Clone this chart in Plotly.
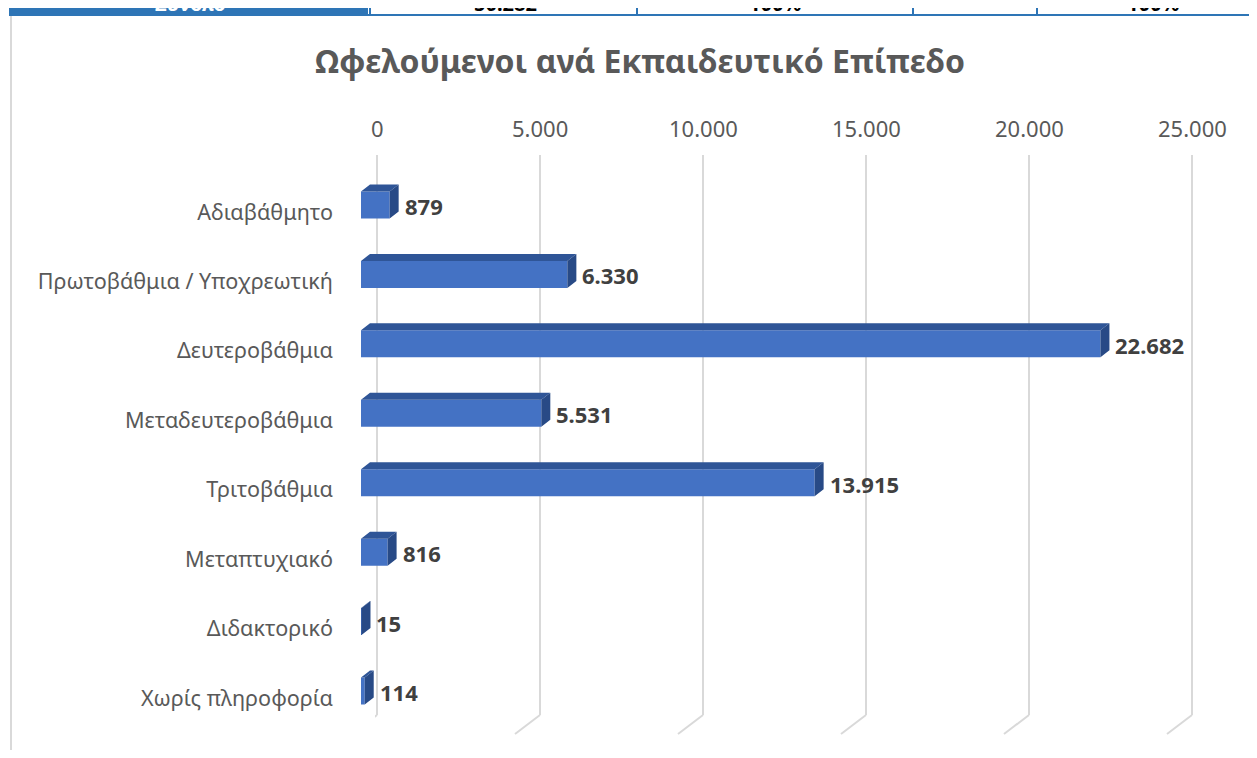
import plotly.graph_objects as go

# the page body keeps an 8px margin around the figure
FW, FH = 1241, 742
SX, OX = 1.0, 8.0      # page_x = SX * fig_x + OX
OY = 8.0               # page_y = fig_y + OY

categories = ["Αδιαβάθμητο", "Πρωτοβάθμια / Υποχρεωτική", "Δευτεροβάθμια",
              "Μεταδευτεροβάθμια", "Τριτοβάθμια", "Μεταπτυχιακό",
              "Διδακτορικό", "Χωρίς πληροφορία"]
values = [879, 6330, 22682, 5531, 13915, 816, 15, 114]
tick_vals = [0, 5000, 10000, 15000, 20000, 25000]
tick_text = ["0", "5.000", "10.000", "15.000", "20.000", "25.000"]
title_text = "Ωφελούμενοι ανά Εκπαιδευτικό Επίπεδο"
table_texts = ["Σύνολο", "50.282", "100%", "100%"]


def px_x(p):
    """target page pixel x -> paper fraction"""
    return ((p - OX) / SX) / FW


def px_y(p):
    """target page pixel y (from top) -> paper fraction"""
    return 1 - (p - OY) / FH


PX_PER_UNIT_X = 815 / 25000 / SX
cat_top_px, cat_step_px = 212, 69.43
n = len(categories)

y_top_px = cat_top_px - 0.5 * cat_step_px
y_bot_px = cat_top_px + (n - 0.5) * cat_step_px

bar_h = 27 / cat_step_px
bar_shift = -7 / cat_step_px
dx = (9 / SX) / PX_PER_UNIT_X
dy = 7 / cat_step_px

FRONT = "#4472C4"
TOP = "#2F5597"
SIDE = "#284A86"
FONT = "Noto Sans"

ys = list(range(n))
fig = go.Figure()

fig.add_trace(go.Bar(
    x=values, y=ys, orientation="h", base=0,
    width=bar_h, offset=bar_shift - bar_h / 2,
    marker=dict(color=FRONT, line=dict(width=0)),
    xaxis="x2", yaxis="y2", hoverinfo="skip", showlegend=False))

tx, ty, sx, sy = [], [], [], []
for i, v in enumerate(values):
    yt = i + bar_shift - bar_h / 2
    yb = i + bar_shift + bar_h / 2
    tx += [0, v, v + dx, dx, 0, None]
    ty += [yt, yt, yt - dy, yt - dy, yt, None]
    sx += [v, v + dx, v + dx, v, v, None]
    sy += [yt, yt - dy, yb - dy, yb, yt, None]

fig.add_trace(go.Scatter(x=tx, y=ty, mode="lines", fill="toself", fillcolor=TOP,
                         line=dict(width=0, color=TOP), xaxis="x2", yaxis="y2",
                         hoverinfo="skip", showlegend=False))
fig.add_trace(go.Scatter(x=sx, y=sy, mode="lines", fill="toself", fillcolor=SIDE,
                         line=dict(width=0, color=SIDE), xaxis="x2", yaxis="y2",
                         hoverinfo="skip", showlegend=False))

for i, v in enumerate(values):
    fig.add_annotation(x=v, y=i, xref="x2", yref="y2",
                       text=f"{v:,}".replace(",", "."), showarrow=False,
                       xanchor="left", yanchor="middle", xshift=13 / SX, yshift=6,
                       font=dict(family=FONT, size=22, color="#404040", weight="bold"))

grid_bottom_px, grid_top_px = 715, 155
ext = 60
ext_px = ext * 815 / 25000

fig.update_layout(
    width=FW, height=FH,
    margin=dict(l=0, r=0, t=0, b=0, pad=0),
    paper_bgcolor="white", plot_bgcolor="rgba(0,0,0,0)",
    showlegend=False,
    xaxis=dict(domain=[px_x(377 - ext_px), px_x(1192 + ext_px)], range=[-ext, 25000 + ext],
               side="top", tickvals=tick_vals, showticklabels=False, showgrid=True,
               gridcolor="#D9D9D9", gridwidth=2, zeroline=False, showline=False,
               ticks="", anchor="y", fixedrange=True),
    yaxis=dict(domain=[px_y(grid_bottom_px), px_y(grid_top_px)], range=[0, 1],
               visible=False, fixedrange=True),
    xaxis2=dict(domain=[px_x(361), px_x(1176)], range=[0, 25000], anchor="y2",
                visible=False, fixedrange=True),
    yaxis2=dict(domain=[px_y(y_bot_px), px_y(y_top_px)], range=[n - 0.5, -0.5],
                anchor="x2", tickvals=ys, ticktext=categories, showgrid=False,
                zeroline=False, showline=False, ticks="", ticklabelstandoff=27,
                fixedrange=True,
                tickfont=dict(family=FONT, size=21.6, color="#595959")),
)

# value-axis tick labels (placed on the grid axis)
for t, lab in zip(tick_vals, tick_text):
    fig.add_annotation(x=t, y=px_y(128), xref="x", yref="paper", text=lab,
                       showarrow=False, xanchor="center", yanchor="middle",
                       font=dict(family=FONT, size=22, color="#595959"))

fig.add_annotation(x=px_x(640), y=px_y(60), xref="paper", yref="paper",
                   text=title_text, showarrow=False, xanchor="center", yanchor="middle",
                   font=dict(family=FONT, size=32, color="#595959", weight="bold"))

for t in tick_vals:
    fig.add_shape(type="line", xref="x", yref="paper", xsizemode="pixel", xanchor=t,
                  ysizemode="pixel", yanchor=px_y(grid_bottom_px),
                  x0=0, x1=-25 / SX, y0=0, y1=-19,
                  line=dict(color="#D9D9D9", width=2))

fig.add_shape(type="line", xref="paper", yref="paper", x0=px_x(11), x1=px_x(11),
              y0=0, y1=px_y(16), line=dict(color="#D9D9D9", width=2))

# cut-off table row at the very top
fig.add_shape(type="rect", xref="paper", yref="paper", x0=px_x(9), x1=px_x(368),
              y0=px_y(14), y1=1, fillcolor="#2E75B6", line=dict(width=0))
fig.add_shape(type="line", xref="paper", yref="paper", x0=px_x(9), x1=1,
              y0=px_y(15), y1=px_y(15), line=dict(color="#2E75B6", width=2))
for xv in [370, 637, 913, 1037]:
    fig.add_shape(type="line", xref="paper", yref="paper", x0=px_x(xv), x1=px_x(xv),
                  y0=px_y(15), y1=1, line=dict(color="#2E75B6", width=2))
for txt, xc, col in zip(table_texts, [190, 505, 775, 1153],
                        ["white", "black", "black", "black"]):
    fig.add_annotation(x=px_x(xc), y=px_y(19), xref="paper", yref="paper", text=txt,
                       showarrow=False, xanchor="center", yanchor="bottom",
                       font=dict(family=FONT, size=20, color=col, weight="bold"))

fig.write_html("out.html")
